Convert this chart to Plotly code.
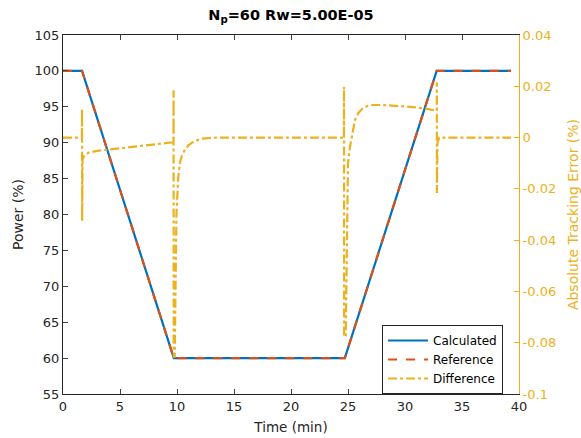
import plotly.graph_objects as go

# ---- data ----
power_time = [0, 1.67, 9.72, 24.72, 32.78, 39.3]
power_calculated = [100, 100, 60, 60, 100, 100]
power_reference = [100, 100, 60, 60, 100, 100]

diff_time = [0, 1.66, 1.67, 1.68, 1.72, 1.9, 2.3, 3, 4, 5, 6, 7, 8, 9, 9.6, 9.69,
             9.70, 9.71, 9.80, 9.90, 9.95, 10.1, 10.25, 10.45, 10.68, 11.0, 11.38,
             11.8, 12.25, 13, 14, 24.64, 24.65, 24.66, 24.80, 24.88, 24.94, 25.0,
             25.17, 25.4, 25.61, 25.9, 26.31, 26.7, 27.19, 28.0, 29.3, 30.7, 31.7,
             32.46, 32.78, 32.79, 32.80, 32.85, 33.0, 39.3]
diff_value = [0, 0, 0.0111, -0.0325, -0.0085, -0.0068, -0.0058, -0.0052, -0.0047,
              -0.0042, -0.0037, -0.0032, -0.0027, -0.0022, -0.0018, -0.0018,
              0.0185, -0.0854, -0.0854, -0.05, -0.03, -0.016, -0.0099, -0.0068,
              -0.0049, -0.003, -0.0018, -0.001, -0.0004, -0.0001, 0, 0,
              0.0197, -0.0776, -0.0776, -0.04, -0.02, -0.01, -0.0037, 0.002,
              0.0068, 0.0095, 0.0115, 0.0123, 0.0127, 0.0127, 0.0123, 0.0119,
              0.0113, 0.0107, 0.0105, 0.0216, -0.0216, -0.002, 0, 0]

x_ticks = [0, 5, 10, 15, 20, 25, 30, 35, 40]
y_left_ticks = [55, 60, 65, 70, 75, 80, 85, 90, 95, 100, 105]
y_right_ticks = [-0.1, -0.08, -0.06, -0.04, -0.02, 0, 0.02, 0.04]
y_right_labels = ["-0.1", "-0.08", "-0.06", "-0.04", "-0.02", "0", "0.02", "0.04"]

BLUE = "#0072BD"
ORANGE = "#D95319"
YELLOW = "#EDB120"
DARK = "#262626"
FONT = "DejaVu Sans"

fig = go.Figure()
fig.add_trace(go.Scatter(x=power_time, y=power_calculated, mode="lines",
                         name="Calculated", line=dict(color=BLUE, width=2.2)))
fig.add_trace(go.Scatter(x=power_time, y=power_reference, mode="lines",
                         name="Reference", line=dict(color=ORANGE, width=2.2, dash="dash")))
fig.add_trace(go.Scatter(x=diff_time, y=diff_value, mode="lines", yaxis="y2",
                         name="Difference", line=dict(color=YELLOW, width=2.2, dash="dashdot")))

fig.update_layout(
    width=581, height=438,
    margin=dict(l=63, r=62, t=35, b=44, autoexpand=False),
    paper_bgcolor="white", plot_bgcolor="white",
    font=dict(family=FONT, size=13, color=DARK),
    title=dict(text="<b>N<sub>p</sub>=60 Rw=5.00E-05</b>", x=0.5, xref="paper",
               xanchor="center", y=0.978, yanchor="top",
               font=dict(family=FONT, size=14.5, color="black")),
    showlegend=True,
    legend=dict(x=0.965, y=0.0, xanchor="right", yanchor="bottom",
                bgcolor="white", bordercolor=DARK, borderwidth=1,
                font=dict(family=FONT, size=12, color="black"),
                tracegroupgap=0, itemwidth=40),
    xaxis=dict(range=[0, 40], tickvals=x_ticks, ticks="inside", ticklen=5,
               showline=True, linecolor=DARK, linewidth=1, mirror="ticks",
               showgrid=False, zeroline=False, automargin=False,
               title=dict(text="Time (min)", standoff=9, font=dict(size=13.5)),
               tickfont=dict(size=13, color=DARK)),
    yaxis=dict(range=[55, 105], tickvals=y_left_ticks, ticks="inside", ticklen=5,
               showline=True, linecolor=DARK, linewidth=1,
               showgrid=False, zeroline=False, automargin=False,
               title=dict(text="Power (%)", standoff=7, font=dict(size=14)),
               tickfont=dict(size=13, color=DARK)),
    yaxis2=dict(range=[-0.1, 0.04], tickvals=y_right_ticks, ticktext=y_right_labels,
                overlaying="y", side="right", ticks="inside", ticklen=5,
                tickcolor=YELLOW, showline=True, linecolor=YELLOW, linewidth=1,
                showgrid=False, zeroline=False, automargin=False,
                title=dict(text="Absolute Tracking Error (%)", standoff=12,
                           font=dict(size=14, color=YELLOW)),
                tickfont=dict(size=13, color=YELLOW)),
)

fig.write_html("out.html", config={"displayModeBar": False},
               post_script="document.body.style.margin='0';document.body.style.overflow='hidden';")
